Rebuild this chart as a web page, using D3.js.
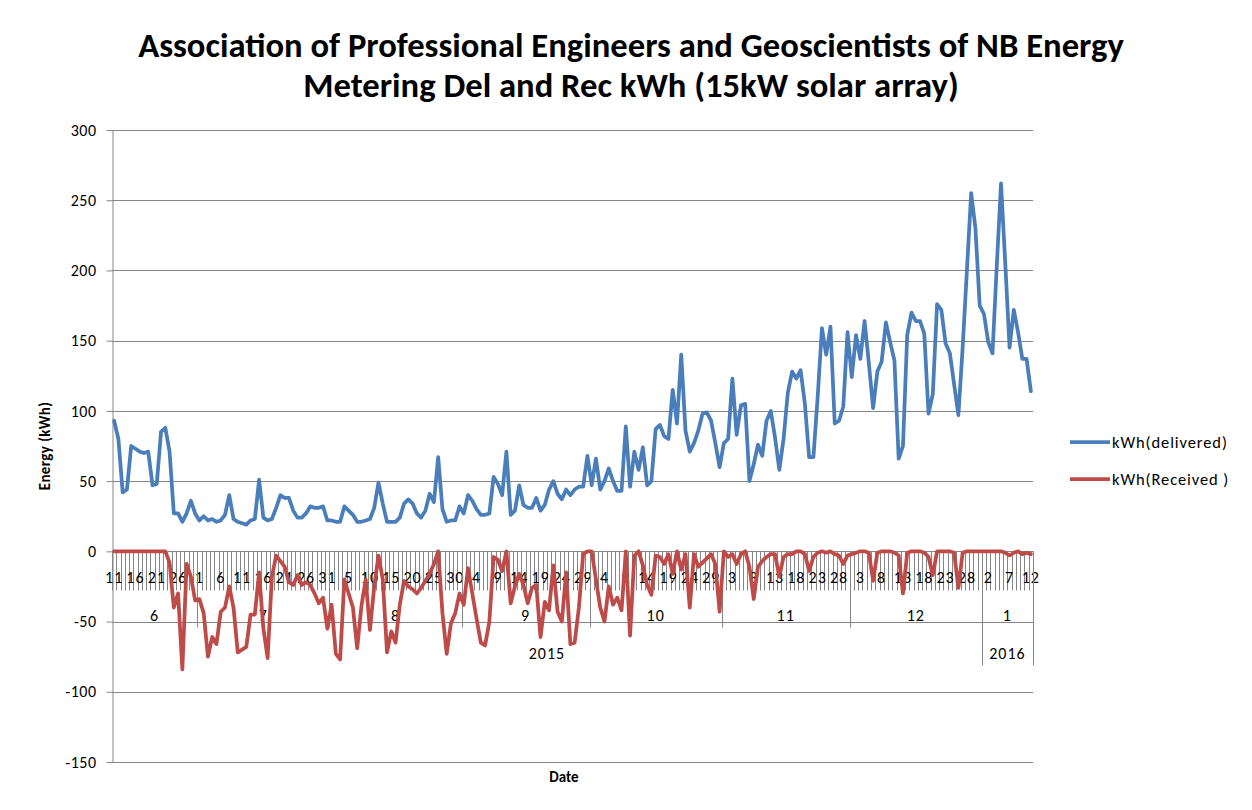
<!DOCTYPE html>
<html>
<head>
<meta charset="utf-8">
<script src="https://cdn.jsdelivr.net/npm/d3@7"></script>
<style>
body { margin: 0; background: #fff; }
svg text { font-family: Carlito, Lato, "Liberation Sans", sans-serif; fill: #000; }
</style>
</head>
<body>
<svg id="chart" width="1252" height="810"></svg>
<script>
// one reading per day, 11 Jun 2015 .. 12 Jan 2016
const startDate = new Date(2015, 5, 11);
const endDate = new Date(2016, 0, 13);

const delivered = [
  93, 80, 42, 44, 75, 73, 71, 70, 71, 47,
  48, 85, 88, 71, 27, 27, 21, 27, 36, 27,
  22, 25, 22, 23, 21, 22, 26, 40, 23, 21,
  20, 19, 22, 23, 51, 24, 22, 23, 31, 40,
  38, 38, 29, 24, 24, 27, 32, 31, 31, 32,
  22, 22, 21, 21, 32, 29, 26, 21, 21, 22,
  23, 31, 49, 34, 21, 21, 21, 24, 34, 37,
  34, 27, 24, 29, 41, 35, 67, 30, 21, 22,
  22, 32, 27, 40, 36, 30, 26, 26, 27, 53,
  48, 40, 71, 26, 29, 47, 33, 31, 31, 38,
  29, 33, 44, 50, 41, 37, 44, 40, 44, 46,
  46, 68, 47, 66, 44, 50, 59, 50, 43, 43,
  89, 46, 71, 58, 74, 47, 50, 87, 90, 82,
  80, 115, 91, 140, 86, 71, 77, 86, 98, 99,
  93, 77, 60, 77, 80, 123, 83, 104, 105, 50,
  62, 76, 68, 93, 100, 81, 58, 80, 113, 128,
  123, 129, 105, 67, 67, 110, 159, 140, 160, 91,
  93, 103, 156, 124, 154, 137, 164, 134, 102, 128,
  135, 163, 149, 136, 66, 75, 154, 170, 164, 164,
  155, 98, 112, 176, 172, 148, 141, 119, 97, 145,
  200, 255, 230, 175, 169, 149, 141, 203, 262, 205,
  145, 172, 156, 137, 137, 114
];

const received = [
  0, 0, 0, 0, 0, 0, 0, 0, 0, 0,
  0, 0, 0, -8, -40, -30, -84, -9, -18, -35,
  -34, -44, -75, -61, -66, -43, -40, -25, -40, -72,
  -70, -68, -45, -45, -15, -55, -76, -18, -3, -7,
  -11, -22, -24, -17, -24, -22, -24, -30, -37, -33,
  -55, -38, -73, -77, -20, -30, -40, -69, -39, -20,
  -56, -25, -3, -20, -72, -57, -65, -38, -21, -25,
  -27, -30, -26, -21, -16, -9, 0, -44, -73, -51,
  -44, -30, -38, -12, -30, -48, -65, -67, -50, -4,
  -6, -14, 0, -37, -25, -16, -24, -37, -26, -24,
  -61, -36, -42, -10, -43, -50, -15, -66, -65, -40,
  -2, 0, 0, -20, -40, -50, -25, -38, -33, -42,
  0, -60, -3, 0, -10, -24, -31, -3, -4, -9,
  -2, -16, 0, -13, -2, -40, -2, -11, -8, -5,
  -2, -9, -43, 0, -4, -2, -9, -2, 0, -11,
  -34, -11, -7, -4, -2, -2, -18, -4, -2, -2,
  0, 0, -2, -14, -4, -1, 0, -1, 0, -2,
  -3, -9, -3, -2, -1, 0, 0, -1, -21, -1,
  0, 0, 0, -1, -3, -30, -1, 0, 0, 0,
  -1, -4, -17, 0, 0, 0, 0, -1, -26, -1,
  0, 0, 0, 0, 0, 0, 0, 0, 0, -1,
  -3, -1, 0, -2, -1, -2
];

const monthLabels = ["6", "7", "8", "9", "10", "11", "12", "1"];
const yearLabels = ["2015", "2016"];
const yTicks = [300, 250, 200, 150, 100, 50, 0, -50, -100, -150];
const seriesNames = ["kWh(delivered)", "kWh(Received )"];
const seriesColors = ["#4A7EBB", "#BE4B48"];
const dayLabelStep = 5;

const days = d3.timeDay.range(startDate, endDate);

const svg = d3.select("#chart");
const plotLeft = 112, plotRight = 1033, plotTop = 130, plotBottom = 762;
const gridColor = "#868686";
const labelSize = 16;

const x = d3.scaleBand().domain(d3.range(days.length)).range([plotLeft, plotRight]);
const y = d3.scaleLinear().domain([-150, 300]).range([plotBottom, plotTop]);
const bw = x.bandwidth();

// title
const title = svg.append("g").attr("font-weight", "bold");
const t1 = title.append("text").attr("x", 631).attr("y", 57).attr("text-anchor", "middle")
  .attr("font-size", 24).text("Association of Professional Engineers and Geoscientists of NB Energy");
const fs = 24 * 986 / t1.node().getComputedTextLength();
t1.attr("font-size", fs);
title.append("text").attr("x", 631).attr("y", 97).attr("text-anchor", "middle")
  .attr("font-size", fs).text("Metering Del and Rec kWh (15kW solar array)");

// horizontal gridlines
svg.append("g").selectAll("line").data(yTicks).enter().append("line")
  .attr("x1", plotLeft).attr("x2", plotRight)
  .attr("y1", d => Math.round(y(d)) + 0.5).attr("y2", d => Math.round(y(d)) + 0.5)
  .attr("stroke", gridColor).attr("stroke-width", 1);

// value axis (plain hyphen for negatives, like the original)
const yAxis = svg.append("g").attr("transform", "translate(" + (plotLeft + 0.5) + ",0)")
  .call(d3.axisLeft(y).tickValues(yTicks).tickFormat(d => String(d))
    .tickSize(6).tickPadding(10).tickSizeOuter(0));
yAxis.select(".domain").attr("stroke", gridColor);
yAxis.selectAll(".tick line").attr("stroke", gridColor);
yAxis.selectAll(".tick text").attr("font-size", labelSize).attr("font-family", "Carlito, Lato, sans-serif")
  .attr("fill", "#000").attr("letter-spacing", 0.5);

svg.append("text").attr("transform", "translate(50," + ((plotTop + plotBottom) / 2) + ") rotate(-90)")
  .attr("text-anchor", "middle").attr("font-weight", "bold").attr("font-size", 15)
  .attr("letter-spacing", 0.4).text("Energy (kWh)");

svg.append("text").attr("x", 564).attr("y", 782).attr("text-anchor", "middle")
  .attr("font-weight", "bold").attr("font-size", 15).text("Date");

// category axis: day ticks, month and year groups
const y0 = Math.round(y(0)) + 0.5;
const catAxis = svg.append("g");
catAxis.selectAll("line.day").data(d3.range(days.length + 1)).enter().append("line")
  .attr("class", "day")
  .attr("x1", i => Math.round(plotLeft + i * bw) + 0.5).attr("x2", i => Math.round(plotLeft + i * bw) + 0.5)
  .attr("y1", y0).attr("y2", y0 + 39)
  .attr("stroke", gridColor);

catAxis.selectAll("text.day").data(d3.range(0, days.length, dayLabelStep)).enter().append("text")
  .attr("class", "day")
  .attr("x", i => x(i) + bw / 2).attr("y", 583).attr("text-anchor", "middle")
  .attr("font-size", labelSize).attr("letter-spacing", 1).text(i => days[i].getDate());

const monthGroups = d3.groups(d3.range(days.length), i => days[i].getFullYear() * 100 + days[i].getMonth());
monthGroups.forEach(([key, idx], k) => {
  const x1 = plotLeft + idx[0] * bw, x2 = plotLeft + (idx[idx.length - 1] + 1) * bw;
  catAxis.append("line").attr("x1", Math.round(x2) + 0.5).attr("x2", Math.round(x2) + 0.5)
    .attr("y1", y0).attr("y2", y0 + 76).attr("stroke", gridColor);
  catAxis.append("text").attr("x", (x1 + x2) / 2).attr("y", 621).attr("text-anchor", "middle")
    .attr("font-size", labelSize).attr("letter-spacing", 1).text(monthLabels[k]);
});

const yearGroups = d3.groups(d3.range(days.length), i => days[i].getFullYear());
yearGroups.forEach(([key, idx], k) => {
  const x1 = plotLeft + idx[0] * bw, x2 = plotLeft + (idx[idx.length - 1] + 1) * bw;
  catAxis.append("line").attr("x1", Math.round(x2) + 0.5).attr("x2", Math.round(x2) + 0.5)
    .attr("y1", y0).attr("y2", y0 + 114).attr("stroke", gridColor);
  catAxis.append("text").attr("x", (x1 + x2) / 2).attr("y", 659).attr("text-anchor", "middle")
    .attr("font-size", labelSize).attr("letter-spacing", 1).text(yearLabels[k]);
});

// series
const line = d3.line().x((d, i) => x(i) + bw / 2).y(d => y(d));
[delivered, received].forEach((vals, s) => {
  svg.append("path").datum(vals).attr("d", line)
    .attr("fill", "none").attr("stroke", seriesColors[s]).attr("stroke-width", 3.75)
    .attr("stroke-linejoin", "round").attr("stroke-linecap", "round");
});

// legend
const legend = svg.append("g").selectAll("g").data(seriesNames).enter().append("g")
  .attr("transform", (d, i) => "translate(1070," + (442 + i * 37) + ")");
legend.append("line").attr("x1", 0).attr("x2", 40).attr("y1", 0).attr("y2", 0)
  .attr("stroke", (d, i) => seriesColors[i]).attr("stroke-width", 3.75);
legend.append("text").attr("x", 42).attr("y", 6).attr("font-size", 16.5)
  .attr("letter-spacing", 0.9).text(d => d);
</script>
</body>
</html>
